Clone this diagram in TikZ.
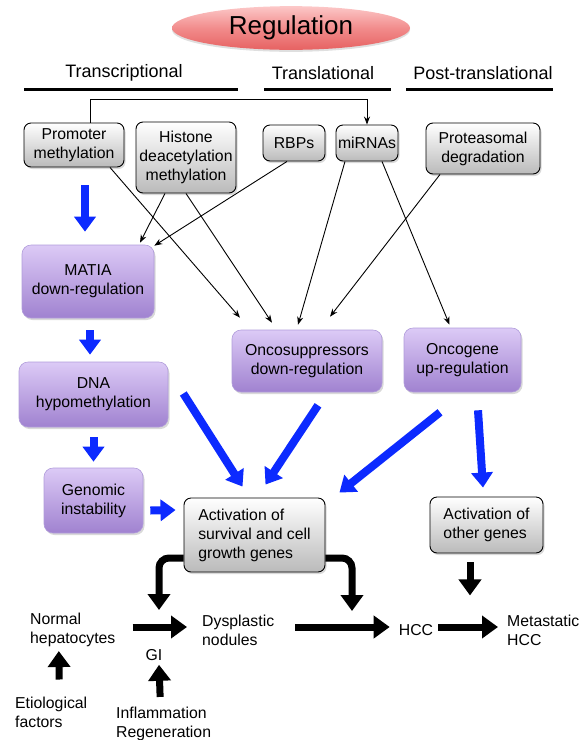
\documentclass[tikz,border=0pt]{standalone}
\usepackage{fontspec}
\setmainfont{Liberation Sans}
\usepackage{tikz}
\usetikzlibrary{positioning,calc,arrows,arrows.meta,shapes,shadows}

\definecolor{regred}{RGB}{230,98,98}
\definecolor{regmid}{RGB}{242,140,140}
\definecolor{regpink}{RGB}{252,200,200}
\definecolor{lilactop}{RGB}{220,202,246}
\definecolor{lilacbot}{RGB}{160,130,208}
\definecolor{lilacline}{RGB}{176,156,218}
\definecolor{arrowblue}{RGB}{12,42,255}

\tikzset{
  graybox/.style={draw=black,line width=0.9pt,rounded corners=7pt,top color=white,bottom color=black!27,
    align=center,inner sep=2pt,font=\fontsize{15.8}{19}\selectfont,
    drop shadow={opacity=0.3,shadow xshift=1.5pt,shadow yshift=-2pt}},
  lilacbox/.style={draw=lilacline,line width=0.6pt,rounded corners=9pt,top color=lilactop,bottom color=lilacbot,
    align=center,inner sep=2pt,font=\fontsize{15.8}{19}\selectfont,
    drop shadow={opacity=0.3,shadow xshift=1.5pt,shadow yshift=-2pt}},
  plaintext/.style={align=left,inner sep=0pt,font=\fontsize{15.8}{19}\selectfont},
  heading/.style={font=\fontsize{18}{22}\selectfont},
  thinarrow/.style={-{Stealth[length=8pt,width=6pt]},line width=0.9pt},
  bluearrow/.style={-{Triangle[length=15pt,width=21pt]},line width=8pt,draw=arrowblue},
  blackarrow/.style={-{Triangle[length=16pt,width=22pt]},line width=7pt},
}

\begin{document}
\begin{tikzpicture}[x=1pt,y=-1pt]
      \useasboundingbox (0,0) rectangle (586,740);

      \node[ellipse,minimum width=238pt,minimum height=40pt,top color=regpink,bottom color=regred,middle color=regmid,
        drop shadow={opacity=0.25,shadow xshift=0pt,shadow yshift=-2pt}] (reg) at (291,28)
        {\fontsize{26}{30}\selectfont Regulation};

      \node[heading] (transc) at (124,73) {Transcriptional};
      \node[heading] (transl) at (323,73) {Translational};
      \node[heading] (posttr) at (483,73) {Post-translational};
      \draw[line width=3pt] (24,89) -- (238,89);
      \draw[line width=3pt] (264,89) -- (391,89);
      \draw[line width=3pt] (406,89) -- (553,89);

      % sources
      \node[graybox,minimum width=100pt,minimum height=44pt] (prom) at (74,145) {Promoter\\methylation};
      \node[graybox,minimum width=100pt,minimum height=71pt] (hist) at (186,157.5) {Histone\\deacetylation\\methylation};
      \node[graybox,minimum width=62pt,minimum height=36pt] (rbp) at (294,143) {RBPs};
      \node[graybox,minimum width=62pt,minimum height=36pt] (mir) at (367,143) {miRNAs};
      \node[graybox,minimum width=114pt,minimum height=51pt] (prot) at (483,148.5) {Proteasomal\\degradation};

      % effects
      \node[lilacbox,minimum width=132pt,minimum height=73pt] (matia) at (88,281.5) {MATIA\\down-regulation};
      \node[lilacbox,minimum width=150pt,minimum height=62pt] (oncos) at (307,361) {Oncosuppressors\\down-regulation};
      \node[lilacbox,minimum width=117pt,minimum height=64pt] (oncou) at (462.5,360) {Oncogene\\up-regulation};
      \node[lilacbox,minimum width=149pt,minimum height=65pt] (dna) at (93.5,394.5) {DNA\\hypomethylation};
      \node[lilacbox,minimum width=99pt,minimum height=65pt] (gen) at (93.5,500.5) {Genomic\\instability};

      \node[graybox,align=left,minimum width=141pt,minimum height=74pt] (act) at (254.5,535) {Activation of\\survival and cell\\growth genes};
      \node[graybox,align=left,minimum width=113pt,minimum height=56pt] (other) at (486.5,525) {Activation of\\other genes};

      % progression
      \node[plaintext,anchor=west] (normal) at (30,630) {Normal\\hepatocytes};
      \node[plaintext,anchor=west] (dysp) at (202,630) {Dysplastic\\nodules};
      \node[plaintext] (hcc) at (416,630) {HCC};
      \node[plaintext,anchor=west] (meta) at (507,630) {Metastatic\\HCC};
      \node[plaintext] (gi) at (154,655) {GI};
      \node[plaintext,anchor=west] (etio) at (15,712) {Etiological\\factors};
      \node[plaintext,anchor=west] (infl) at (116,724) {Inflammation\\Regeneration};

      \coordinate (top) at (0,99);
      \coordinate (lefttip) at (159,610);
      \coordinate (righttip) at (352,611);

      % thin connectors
      \draw[thinarrow] ($(prom.north)+(16,0)$) |- (mir.north |- top) -- (mir.north);
      \draw[thinarrow] ($(hist.south)+(-21,0)$) -- ($(matia.north)+(52,-2)$);
      \draw[thinarrow] ($(rbp.south)+(-7,0)$) -- ($(matia.north east)+(0,1)$);
      \draw[thinarrow] ($(prom.south)+(36,0)$) -- ($(oncos.north)+(-67,-12)$);
      \draw[thinarrow] (hist.south) -- ($(oncos.north)+(-35,-7)$);
      \draw[thinarrow] ($(mir.south)+(-22,0)$) -- ($(oncos.north)+(-9,-5)$);
      \draw[thinarrow] ($(prot.south)+(-43,0)$) -- ($(oncos.north)+(23,-13)$);
      \draw[thinarrow] ($(mir.south)+(15,0)$) -- ($(oncou.north)+(-13,-3)$);

      % blue arrows
      \draw[bluearrow] ($(prom.south)+(11,18)$) -- ($(matia.north)+(-3,-13)$);
      \draw[bluearrow] ($(matia.south)+(2,12)$) -- ($(dna.north)+(-3.5,-7)$);
      \draw[bluearrow] ($(dna.south)+(0,10)$) -- ($(gen.north)+(0,-6)$);
      \draw[bluearrow] ($(gen.east)+(7,10)$) -- ($(act.west)+(-8,-25)$);
      \draw[bluearrow] ($(dna.east)+(15,-1)$) -- ($(act.north)+(-12,-11)$);
      \draw[bluearrow] ($(oncos.south)+(11,13)$) -- ($(act.north)+(11,-13)$);
      \draw[bluearrow] ($(oncou.south)+(-22.5,20)$) -- ($(act.north east)+(14,-5)$);
      \draw[bluearrow] ($(oncou.south)+(15.5,18)$) -- ($(other.north)+(-3.5,-9)$);

      % black arrows
      \draw[blackarrow,rounded corners=10pt] ($(act.west)+(0,23)$) -| (lefttip);
      \draw[blackarrow,rounded corners=10pt] ($(act.east)+(0,23)$) -| (righttip);
      \draw[blackarrow] ($(other.south)+(-16.5,9)$) -- ($(other.south)+(-16.5,42)$);
      \draw[blackarrow] ($(normal.east)+(17,-3)$) -- ($(dysp.west)+(-15,-3)$);
      \draw[blackarrow] ($(dysp.east)+(21,-3)$) -- ($(hcc.west)+(-9,-3)$);
      \draw[blackarrow] ($(hcc.east)+(5,-3)$) -- ($(meta.west)+(-9,-3)$);
      \draw[blackarrow] ($(etio.north)+(8,-17)$) -- ($(normal.south)+(-14,4)$);
      \draw[blackarrow] ($(infl.north)+(-3.5,-10)$) -- ($(gi.south)+(5,4)$);
\end{tikzpicture}
\end{document}
